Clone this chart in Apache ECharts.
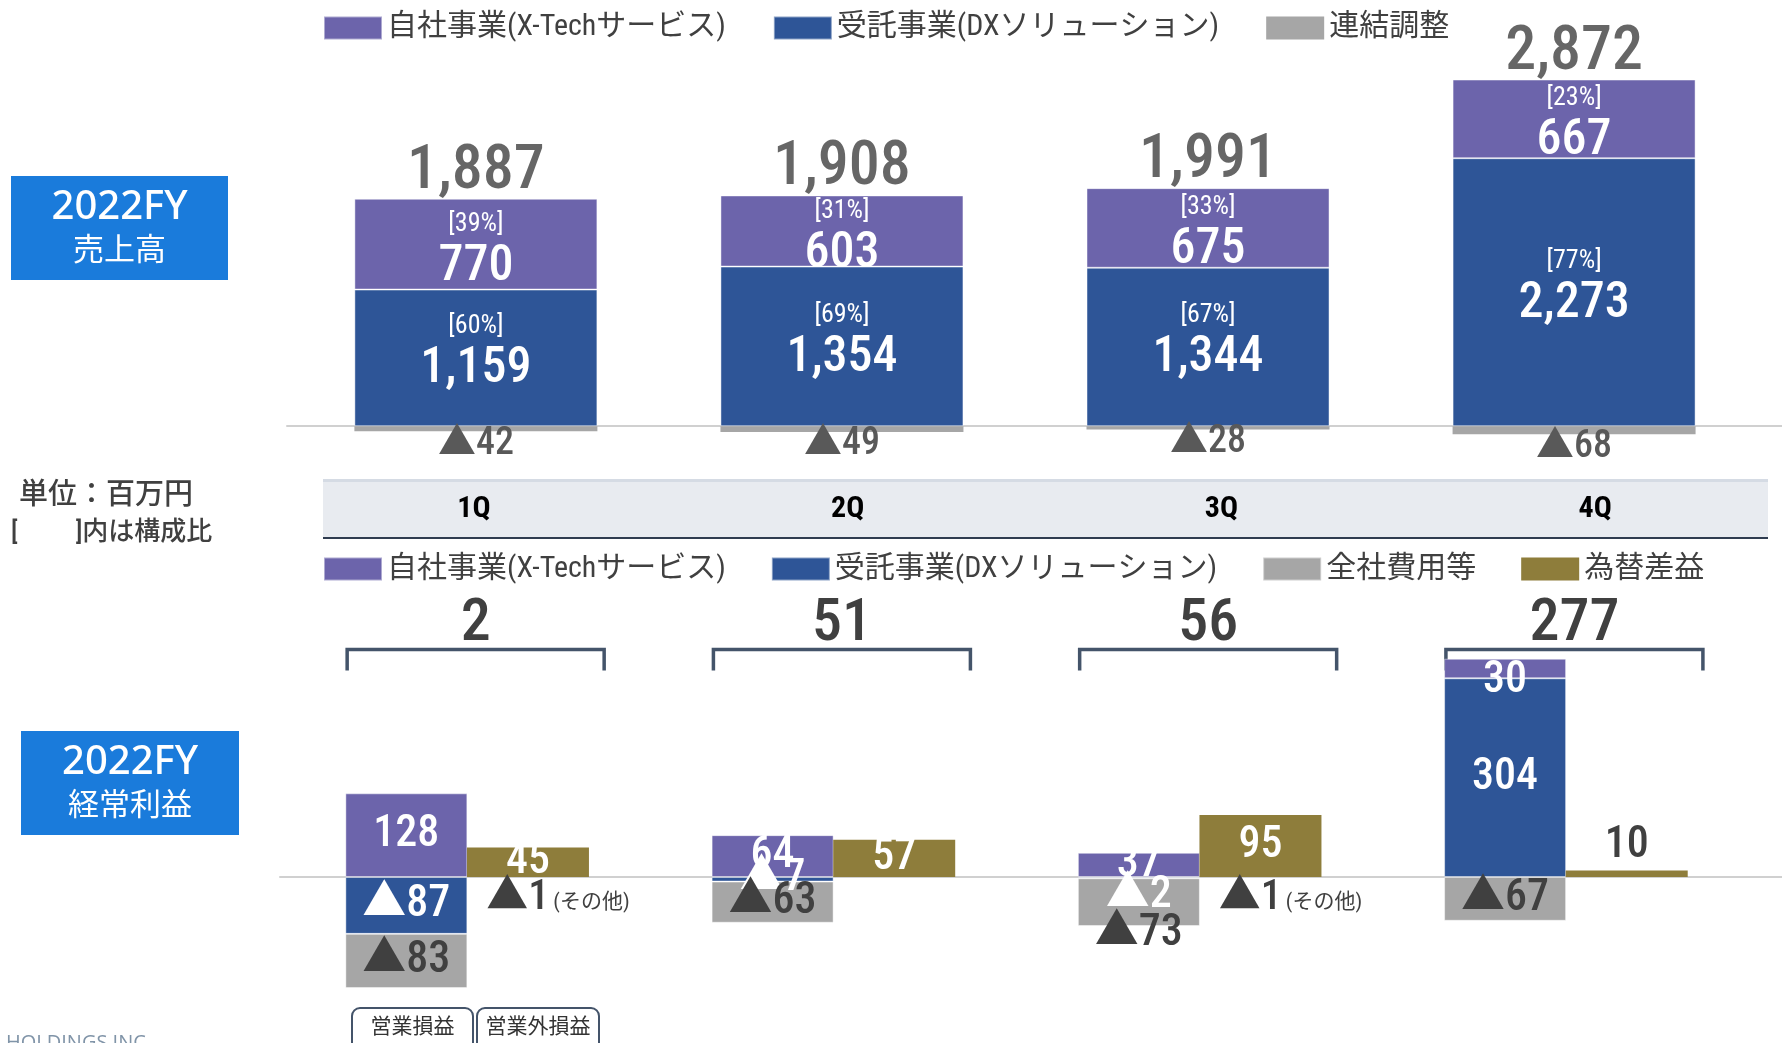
<!DOCTYPE html>
<html>
<head>
<meta charset="utf-8">
<script src="https://cdn.jsdelivr.net/npm/echarts@6/dist/echarts.min.js"></script>
<style>
html, body { margin: 0; padding: 0; background: #fff; }
#main { width: 1782px; height: 1043px; }
</style>
</head>
<body>
<div id="main"></div>
<script>
(function () {
    "use strict";

    // 四半期
    var quarters = ['1Q', '2Q', '3Q', '4Q'];

    // 売上高 (百万円)
    var salesOwn = [770, 603, 675, 667];
    var salesDx = [1159, 1354, 1344, 2273];
    var salesAdj = [-42, -49, -28, -68];
    var salesTotal = [1887, 1908, 1991, 2872];
    var shareOwn = ['39%', '31%', '33%', '23%'];
    var shareDx = ['60%', '69%', '67%', '77%'];

    // 経常利益 (百万円)
    var profitOwn = [128, 64, 37, 30];
    var profitDx = [-87, -7, -2, 304];
    var profitCorp = [-83, -63, -73, -67];
    var profitFx = [45, 57, 95, 10];
    var profitOther = [-1, null, -1, null];
    var profitTotal = [2, 51, 56, 277];

    var NAME_OWN = '自社事業(X-Techサービス)';
    var NAME_DX = '受託事業(DXソリューション)';

    var NUM = "'Roboto Condensed', Roboto, 'Noto Sans CJK JP', sans-serif";
    var JP = "'Roboto Condensed', 'Noto Sans CJK JP', sans-serif";
    var C_OWN = '#6c64ab', C_DX = '#2e5597', C_GRAY = '#a6a6a6', C_FX = '#8e7d3b';
    var C_TEXT = '#404040';

    function tri(v) {
        return v < 0 ? '▲' + Math.abs(v) : String(v);
    }
    // [値, x位置] : 値を先頭の次元にしてインデックスで積み上げる
    function pts(arr, shift) {
        return arr.map(function (v, i) { return [v, i + (shift || 0)]; });
    }
    var ENC = { x: 1, y: 0 };

    var chart = echarts.init(document.getElementById('main'));

    var barBorder = { borderColor: 'rgba(255,255,255,0.45)', borderWidth: 1 };
    var bracketLevel = 348;

    var shareRich = {
        p: { fontSize: 26, lineHeight: 36, color: '#fff', fontFamily: NUM },
        v: { fontSize: 50, lineHeight: 50, color: '#fff', fontFamily: NUM, fontWeight: 500 }
    };

    var option = {
        animation: false,
        backgroundColor: '#fff',
        textStyle: { fontFamily: NUM },
        legend: [{
            left: 323, top: 13, padding: 0,
            itemWidth: 58, itemHeight: 23, itemGap: 47,
            icon: 'rect',
            textStyle: { fontSize: 30, color: C_TEXT, fontFamily: JP },
            data: [NAME_OWN, NAME_DX, '連結調整']
        }, {
            left: 323, top: 554, padding: 0,
            itemWidth: 58, itemHeight: 23, itemGap: 45,
            icon: 'rect',
            textStyle: { fontSize: 30, color: C_TEXT, fontFamily: JP },
            data: [NAME_OWN, NAME_DX, '全社費用等', '為替差益']
        }],
        grid: [
            { left: 287, right: 0, top: 48.9, height: 400.9 },
            { left: 280, right: 0, top: 602.5, height: 405.2 }
        ],
        xAxis: [{
            gridIndex: 0, type: 'value', min: -0.516, max: 3.568,
            axisLine: { show: true, onZero: true, lineStyle: { color: '#d0d0d0', width: 2 } },
            axisTick: { show: false }, axisLabel: { show: false }, splitLine: { show: false }
        }, {
            gridIndex: 0, type: 'category', data: quarters, position: 'bottom', z: 10,
            axisLine: { show: false, onZero: false }, axisTick: { show: false },
            axisLabel: { margin: 45, fontSize: 30, fontWeight: 'bold', color: '#000', fontFamily: NUM }
        }, {
            gridIndex: 1, type: 'value', min: -0.511, max: 3.59,
            axisLine: { show: true, onZero: true, lineStyle: { color: '#d0d0d0', width: 2 } },
            axisTick: { show: false }, axisLabel: { show: false }, splitLine: { show: false }
        }],
        yAxis: [
            { gridIndex: 0, type: 'value', min: -200, max: 3200, show: false },
            { gridIndex: 1, type: 'value', min: -200, max: 420, show: false }
        ],
        series: [
            // 売上高
            {
                name: NAME_DX, type: 'bar', xAxisIndex: 0, yAxisIndex: 0, stack: 'sales', encode: ENC,
                barWidth: 243, barGap: '-100%', itemStyle: Object.assign({ color: C_DX }, barBorder),
                data: pts(salesDx),
                label: {
                    show: true, position: 'inside', offset: [0, -6],
                    formatter: function (p) {
                        return '{p|[' + shareDx[p.dataIndex] + ']}\n{v|' + p.value[0].toLocaleString('en-US') + '}';
                    },
                    rich: shareRich
                }
            },
            {
                name: NAME_OWN, type: 'bar', xAxisIndex: 0, yAxisIndex: 0, stack: 'sales', encode: ENC,
                barWidth: 243, barGap: '-100%', itemStyle: Object.assign({ color: C_OWN }, barBorder),
                data: pts(salesOwn),
                label: {
                    show: true, position: 'inside', offset: [0, 5],
                    formatter: function (p) {
                        return '{p|[' + shareOwn[p.dataIndex] + ']}\n{v|' + p.value[0] + '}';
                    },
                    rich: shareRich
                }
            },
            {
                name: '連結調整', type: 'bar', xAxisIndex: 0, yAxisIndex: 0, stack: 'sales', encode: ENC,
                barWidth: 243, barGap: '-100%', itemStyle: { color: C_GRAY },
                data: pts(salesAdj),
                label: {
                    show: true, position: 'bottom', distance: -2, lineHeight: 30,
                    fontSize: 38, color: '#595959', fontFamily: NUM, fontWeight: 500,
                    formatter: function (p) { return tri(p.value[0]); }
                }
            },
            {
                name: 'sales-total', type: 'scatter', xAxisIndex: 0, yAxisIndex: 0, silent: true, encode: ENC,
                symbolSize: 1, itemStyle: { color: 'transparent' },
                data: salesOwn.map(function (v, i) { return [v + salesDx[i], i]; }),
                label: {
                    show: true, position: 'top', distance: -5,
                    fontSize: 62, color: C_TEXT, fontFamily: NUM, fontWeight: 500,
                    formatter: function (p) { return salesTotal[p.dataIndex].toLocaleString('en-US'); }
                }
            },
            // 経常利益
            {
                name: NAME_DX, type: 'bar', xAxisIndex: 2, yAxisIndex: 1, stack: 'op', encode: ENC,
                barWidth: 122, barGap: '-100%', itemStyle: Object.assign({ color: C_DX }, barBorder),
                data: profitDx.map(function (v, i) {
                    var item = { value: [v, i - 0.166] };
                    // ごく小さい値はバーの下に表示
                    if (Math.abs(v) < 5) {
                        item.label = { position: 'bottom', distance: -4 };
                    }
                    return item;
                }),
                label: {
                    show: true, position: 'inside', fontSize: 44, color: '#fff', fontFamily: NUM, fontWeight: 500,
                    formatter: function (p) { return tri(p.value[0]); }
                }
            },
            {
                name: NAME_OWN, type: 'bar', xAxisIndex: 2, yAxisIndex: 1, stack: 'op', encode: ENC,
                barWidth: 122, barGap: '-100%', itemStyle: Object.assign({ color: C_OWN }, barBorder),
                data: profitOwn.map(function (v, i) {
                    var item = { value: [v, i - 0.166] };
                    if (Math.abs(v) < 35) {
                        item.label = { offset: [0, 12] };
                    }
                    return item;
                }),
                label: {
                    show: true, position: 'inside', fontSize: 44, color: '#fff', fontFamily: NUM, fontWeight: 500,
                    formatter: function (p) { return tri(p.value[0]); }
                }
            },
            {
                name: '全社費用等', type: 'bar', xAxisIndex: 2, yAxisIndex: 1, stack: 'op', encode: ENC,
                barWidth: 122, barGap: '-100%', itemStyle: Object.assign({ color: C_GRAY }, barBorder),
                data: profitCorp.map(function (v, i) {
                    var item = { value: [v, i - 0.166] };
                    // 上のラベルと重ならないよう下端に寄せる
                    if (Math.abs(profitDx[i]) < 5) {
                        item.label = { position: 'bottom', distance: -14 };
                    }
                    return item;
                }),
                label: {
                    show: true, position: 'inside', fontSize: 44, color: C_TEXT, fontFamily: NUM, fontWeight: 500,
                    formatter: function (p) { return tri(p.value[0]); }
                }
            },
            {
                name: '為替差益', type: 'bar', xAxisIndex: 2, yAxisIndex: 1, stack: 'nonop', encode: ENC,
                barWidth: 122, barGap: '-100%', itemStyle: { color: C_FX },
                data: profitFx.map(function (v, i) {
                    var item = { value: [v, i + 0.166] };
                    if (Math.abs(v) < 20) {
                        item.label = { position: 'top', color: C_TEXT, distance: 2 };
                    }
                    return item;
                }),
                label: {
                    show: true, position: 'inside', fontSize: 44, color: '#fff', fontFamily: NUM, fontWeight: 500,
                    formatter: function (p) { return tri(p.value[0]); }
                }
            },
            {
                name: 'その他', type: 'bar', xAxisIndex: 2, yAxisIndex: 1, stack: 'nonop', encode: ENC,
                barWidth: 122, barGap: '-100%', itemStyle: { color: 'transparent' },
                data: pts(profitOther, 0.166),
                label: {
                    show: true, position: 'bottom', distance: 0, offset: [30, 0],
                    formatter: function (p) { return '{a|' + tri(p.value[0]) + '}{b|(その他)}'; },
                    rich: {
                        a: { fontSize: 42, color: C_TEXT, fontFamily: NUM, fontWeight: 500 },
                        b: { fontSize: 21, color: C_TEXT, fontFamily: JP, padding: [8, 0, 0, 4] }
                    }
                }
            },
            {
                name: 'profit-total', type: 'custom', xAxisIndex: 2, yAxisIndex: 1, silent: true, z: 1,
                data: profitTotal.map(function (v, i) { return [i, v]; }),
                renderItem: function (params, api) {
                    var xc = api.coord([api.value(0), 0])[0];
                    var y = api.coord([api.value(0), bracketLevel])[1];
                    var x1 = xc - 120, x2 = xc + 137;
                    return {
                        type: 'group',
                        children: [{
                            type: 'polyline',
                            shape: { points: [[x1, y + 21], [x1, y], [x2, y], [x2, y + 21]] },
                            style: { stroke: '#44546a', lineWidth: 3.5, fill: null }
                        }, {
                            type: 'text',
                            x: (x1 + x2) / 2, y: y + 5,
                            style: {
                                text: String(profitTotal[params.dataIndex]),
                                fill: C_TEXT, fontSize: 60, fontFamily: NUM, fontWeight: 500,
                                align: 'center', verticalAlign: 'bottom'
                            }
                        }]
                    };
                }
            }
        ],
        graphic: [
            // 左の見出しボックス
            { type: 'rect', shape: { x: 11, y: 176, width: 217, height: 104 }, style: { fill: '#1a7bdb' } },
            { type: 'text', x: 119.5, y: 208, style: { text: '2022FY', fill: '#fff', fontSize: 40, fontFamily: "'Noto Sans', sans-serif", fontWeight: 500, align: 'center', verticalAlign: 'middle' } },
            { type: 'text', x: 119.5, y: 248, style: { text: '売上高', fill: '#fff', fontSize: 31, fontFamily: "'Noto Sans CJK JP', sans-serif", align: 'center', verticalAlign: 'middle' } },
            { type: 'rect', shape: { x: 21, y: 731, width: 218, height: 104 }, style: { fill: '#1a7bdb' } },
            { type: 'text', x: 130, y: 763, style: { text: '2022FY', fill: '#fff', fontSize: 40, fontFamily: "'Noto Sans', sans-serif", fontWeight: 500, align: 'center', verticalAlign: 'middle' } },
            { type: 'text', x: 130, y: 803, style: { text: '経常利益', fill: '#fff', fontSize: 31, fontFamily: "'Noto Sans CJK JP', sans-serif", align: 'center', verticalAlign: 'middle' } },
            // 単位
            { type: 'text', x: 19, y: 497, style: { text: '単位：百万円', fill: C_TEXT, fontSize: 29, fontFamily: JP, fontWeight: 500, verticalAlign: 'middle' } },
            { type: 'text', x: 11, y: 533, style: { text: '[　　 ]内は構成比', fill: C_TEXT, fontSize: 26, fontFamily: JP, fontWeight: 500, verticalAlign: 'middle' } },
            // 四半期の帯
            { type: 'rect', z: -1, shape: { x: 323, y: 480, width: 1445, height: 58 }, style: { fill: '#e8ebf0' } },
            { type: 'rect', z: -1, shape: { x: 323, y: 479, width: 1445, height: 3 }, style: { fill: '#d5dbe4' } },
            { type: 'rect', z: -1, shape: { x: 323, y: 537, width: 1445, height: 2 }, style: { fill: '#2f3c50' } },
            // 営業損益 / 営業外損益
            { type: 'rect', shape: { x: 352, y: 1008, width: 121, height: 50, r: 8 }, style: { fill: '#fff', stroke: '#44546a', lineWidth: 2 } },
            { type: 'text', x: 412.5, y: 1028, style: { text: '営業損益', fill: '#333', fontSize: 21, fontFamily: JP, align: 'center', verticalAlign: 'middle' } },
            { type: 'rect', shape: { x: 477, y: 1008, width: 122, height: 50, r: 8 }, style: { fill: '#fff', stroke: '#44546a', lineWidth: 2 } },
            { type: 'text', x: 538, y: 1028, style: { text: '営業外損益', fill: '#333', fontSize: 21, fontFamily: JP, align: 'center', verticalAlign: 'middle' } },
            // フッター
            { type: 'text', x: 6, y: 1033, style: { text: 'HOLDINGS INC.', fill: '#8094a8', fontSize: 20, fontFamily: "'Open Sans', sans-serif", verticalAlign: 'top' } }
        ]
    };

    chart.setOption(option);
})();
</script>
</body>
</html>
